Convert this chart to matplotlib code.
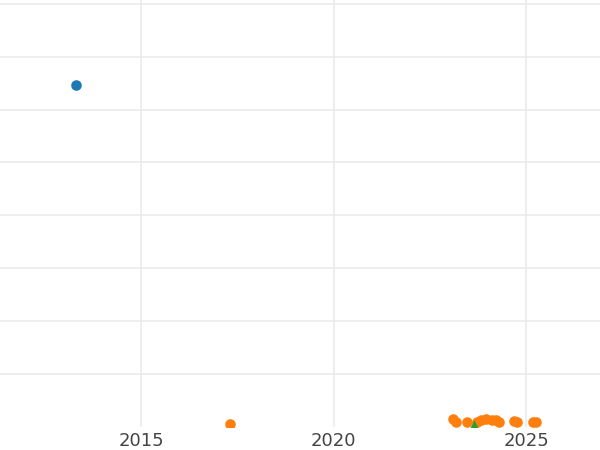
import matplotlib
matplotlib.use("Agg")
import matplotlib.pyplot as plt

# Data (x = year, y = value in grid units)
blue_x = [2013.31]
blue_y = [6.46]

orange_x = [2017.31, 2023.11, 2023.18, 2023.47, 2023.73, 2023.83, 2023.96,
            2024.12, 2024.22, 2024.30, 2024.69, 2024.77, 2025.18, 2025.26]
orange_y = [0.05, 0.15, 0.10, 0.09, 0.10, 0.13, 0.15,
            0.14, 0.13, 0.09, 0.11, 0.10, 0.09, 0.09]

green_x = [2023.65]
green_y = [0.04]

x_ticks = [2015, 2020, 2025]

fig = plt.figure(figsize=(6, 4.5), dpi=100)
ax = fig.add_axes([0, 23 / 450, 1, 427 / 450])

ax.scatter(blue_x, blue_y, s=58, color="#1f77b4", zorder=3, linewidths=0)
ax.scatter(orange_x, orange_y, s=58, color="#ff7f0e", zorder=3, linewidths=0)
ax.scatter(green_x, green_y, s=58, color="#2ca02c", marker="^", zorder=4, linewidths=0)

ax.set_xlim(2011.34, 2026.92)
ax.set_ylim(0, 8.07)
ax.set_xticks(x_ticks)
ax.set_xticklabels([str(t) for t in x_ticks])
ax.set_yticks(range(1, 9))
ax.set_yticklabels([])

ax.grid(True, color="#ebebeb", linewidth=1.2)
ax.set_axisbelow(True)
for s in ax.spines.values():
    s.set_visible(False)
ax.tick_params(axis="both", length=0, pad=3.5, labelsize=13, labelcolor="#444444")

fig.savefig("out.png", dpi=100)
